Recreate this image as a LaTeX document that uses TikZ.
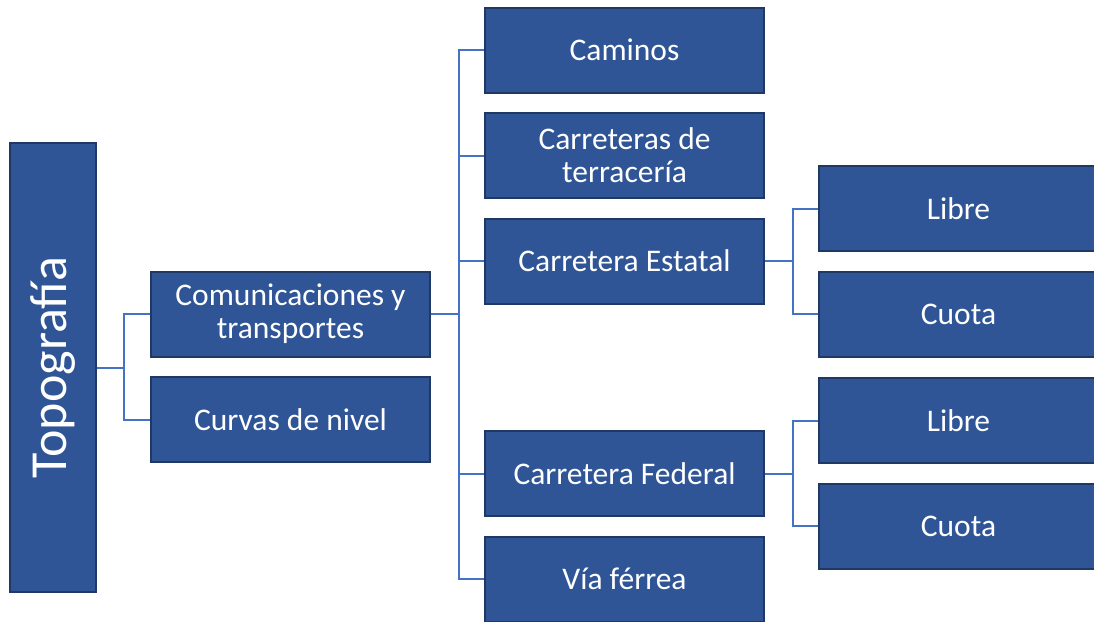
\documentclass[tikz,border=0pt]{standalone}
\usepackage{fontspec}
\setmainfont{Carlito}
\usetikzlibrary{positioning}
\definecolor{boxblue}{HTML}{2F5597}
\definecolor{boxedge}{HTML}{203864}
\definecolor{linkblue}{HTML}{4472C4}

\begin{document}
\begin{tikzpicture}[x=1pt, y=-1pt,
    box/.style={draw=boxedge, line width=2pt, fill=boxblue, text=white, align=center,
        minimum width=279pt, minimum height=85pt, inner sep=2pt,
        font=\fontsize{31.5}{33}\selectfont},
    link/.style={draw=linkblue, line width=2pt}]

        \useasboundingbox (0,0) rectangle (1094,621);

        % Root
        \node[box, rotate=90, minimum width=449pt, minimum height=86pt, font=\fontsize{52}{60}\selectfont] (topo) at (53,367.5) {Topografía};

        % Second level
        \node[box] (comunic) at (290.5,314) {Comunicaciones y\\transportes};
        \node[box, below=18.5pt of comunic] (curvas) {Curvas de nivel};

        % Road types
        \node[box] (caminos) at (624.5,50) {Caminos};
        \node[box, below=18.5pt of caminos] (terraceria) {Carreteras de\\terracería};
        \node[box, below=18.5pt of terraceria] (estatal) {Carretera Estatal};
        \node[box] (federal) at (624.5,473.5) {Carretera Federal};
        \node[box, below=18.5pt of federal] (via) {Vía férrea};

        % Libre / Cuota
        \node[box] (libre1) at (958.5,208.5) {Libre};
        \node[box, below=18.5pt of libre1] (cuota1) {Cuota};
        \node[box] (libre2) at (958.5,420.5) {Libre};
        \node[box, below=18.5pt of libre2] (cuota2) {Cuota};

        % Draw connections
        \draw[link] (topo.south) -- ++(27,0) coordinate (branch1);
        \draw[link] (branch1) |- (comunic.west);
        \draw[link] (branch1) |- (curvas.west);

        \draw[link] (comunic.east) -- ++(28,0) coordinate (branch2);
        \draw[link] (branch2) |- (caminos.west);
        \draw[link] (branch2) |- (terraceria.west);
        \draw[link] (branch2) |- (estatal.west);
        \draw[link] (branch2) |- (federal.west);
        \draw[link] (branch2) |- (via.west);

        \draw[link] (estatal.east) -- ++(28,0) coordinate (branch3);
        \draw[link] (branch3) |- (libre1.west);
        \draw[link] (branch3) |- (cuota1.west);

        \draw[link] (federal.east) -- ++(28,0) coordinate (branch4);
        \draw[link] (branch4) |- (libre2.west);
        \draw[link] (branch4) |- (cuota2.west);

    \end{tikzpicture}
\end{document}
